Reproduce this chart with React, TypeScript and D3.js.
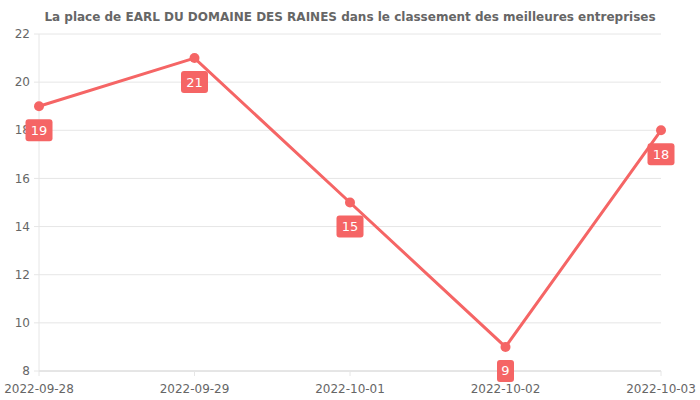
import React from "react";
import * as d3 from "d3";

const dates = ["2022-09-28", "2022-09-29", "2022-10-01", "2022-10-02", "2022-10-03"];
const ranks = [19, 21, 15, 9, 18];
const yTicks = [8, 10, 12, 14, 16, 18, 20, 22];
const title = "La place de EARL DU DOMAINE DES RAINES dans le classement des meilleures entreprises";

const W = 700, H = 400;
const M = { left: 39, right: 661, top: 34, bottom: 371 };
const color = "#f56565";
const font = "DejaVu Sans, sans-serif";

export default function App() {
  const x = d3.scalePoint<string>().domain(dates).range([M.left, M.right]);
  const y = d3.scaleLinear().domain([8, 22]).range([M.bottom, M.top]);
  const line = d3.line<number>().x((_, i) => x(dates[i])!).y(d => y(d));
  return (
    <svg width={W} height={H} style={{ position: "absolute", left: 0, top: 0 }} fontFamily={font}>
      <text x={350} y={21} textAnchor="middle" fontSize={12} fontWeight="bold" fill="#666">{title}</text>
      {yTicks.map(t => (
        <g key={t}>
          <line x1={M.left} x2={M.right} y1={y(t)} y2={y(t)} stroke={t === 8 ? "#ccc" : "#e6e6e6"} />
          <line x1={M.left - 5} x2={M.left} y1={y(t)} y2={y(t)} stroke="#e6e6e6" />
          <text x={M.left - 9} y={y(t)} dy="0.35em" textAnchor="end" fontSize={12} fill="#666">{t}</text>
        </g>
      ))}
      <line x1={M.left} x2={M.left} y1={M.top} y2={M.bottom} stroke="#e6e6e6" />
      {dates.map(d => (
        <g key={d}>
          <line x1={x(d)} x2={x(d)} y1={M.bottom} y2={M.bottom + 5} stroke="#e6e6e6" />
          <text x={x(d)} y={M.bottom + 22} textAnchor="middle" fontSize={12} fill="#666">{d}</text>
        </g>
      ))}
      <path d={line(ranks)!} fill="none" stroke={color} strokeWidth={3} />
      {ranks.map((r, i) => (
        <circle key={i} cx={x(dates[i])} cy={y(r)} r={5} fill={color} />
      ))}
      {ranks.map((r, i) => {
        const w = String(r).length > 1 ? 27 : 17;
        const cx = x(dates[i])!;
        const cy = y(r) + 24;
        return (
          <g key={"l" + i}>
            <rect x={cx - w / 2} y={cy - 11} width={w} height={22} rx={3} fill={color} />
            <text x={cx} y={cy} dy="0.35em" textAnchor="middle" fontSize={13} fill="#fff">{r}</text>
          </g>
        );
      })}
    </svg>
  );
}
